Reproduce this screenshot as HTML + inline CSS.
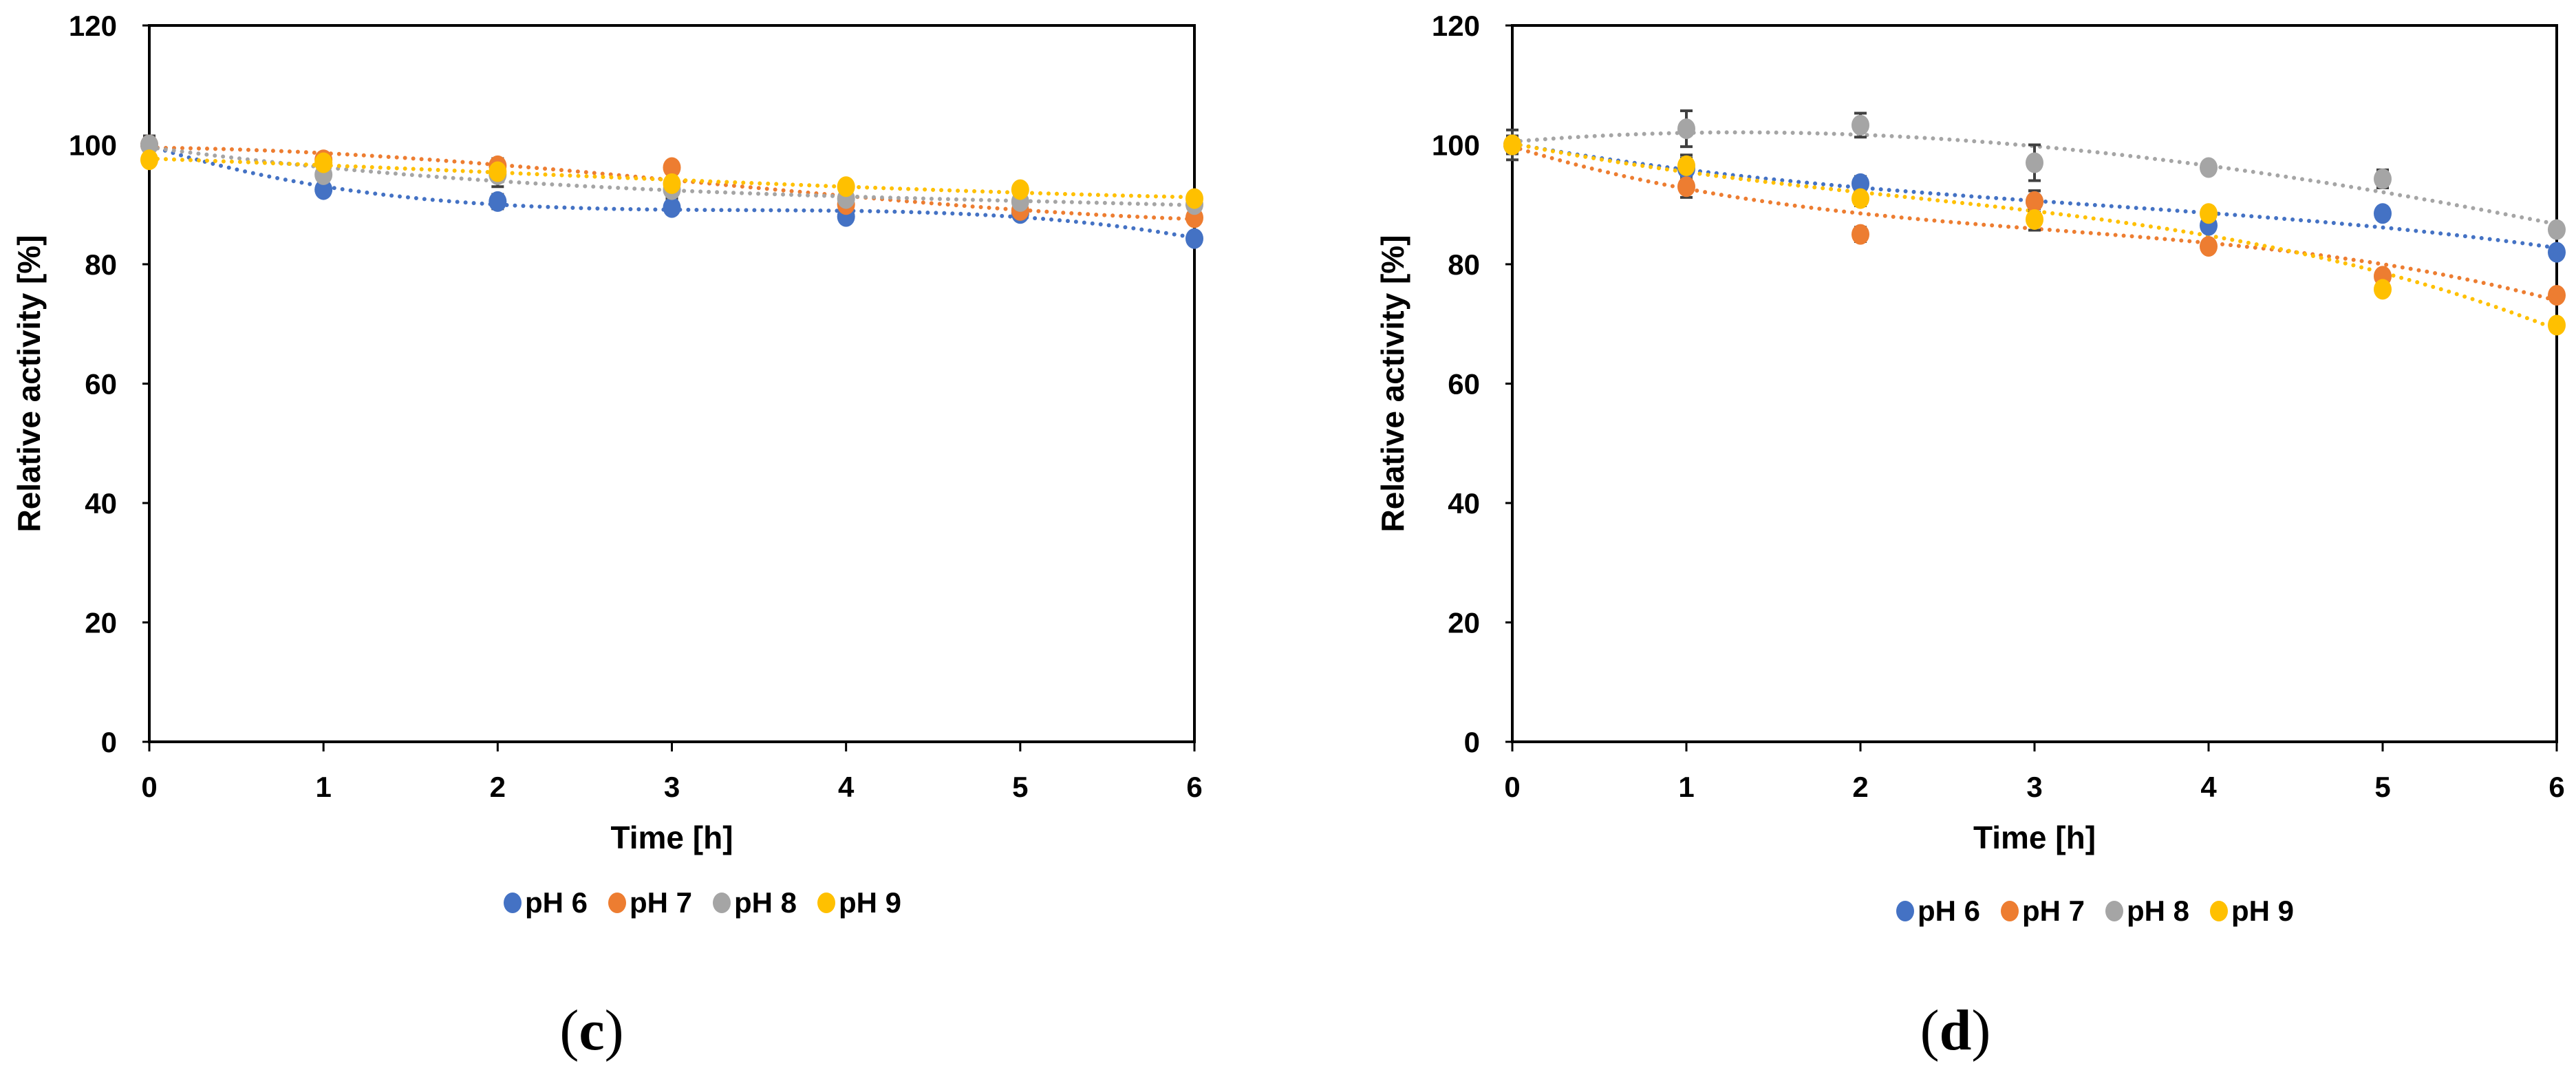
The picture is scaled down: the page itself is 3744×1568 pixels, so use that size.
<!DOCTYPE html>
<html><head><meta charset="utf-8"><style>
html,body{margin:0;padding:0;background:#fff;}
svg{display:block;font-family:"Liberation Sans",sans-serif;}
</style></head><body>
<svg id="fig" width="3744" height="1568" viewBox="0 0 3744 1568"></svg>
<script>
const times=[0,1,2,3,4,5,6];
const yTicks=[0,20,40,60,80,100,120];
const seriesNames=["pH 6","pH 7","pH 8","pH 9"];
const colors=["#4472C4","#ED7D31","#A5A5A5","#FFC000"];
// panel c
const c_ph6=[100,92.5,90.5,89.5,88,88.5,84.3];
const c_ph7=[100,97.5,96.5,96.2,90,89,87.8];
const c_ph8=[100,95,95,92.5,91,90.5,90];
const c_ph9=[97.5,97,95.5,93.5,93,92.5,91];
const c_err=[1.5,1,2,1.5,1,1.5,1.5];
// panel d
const d_ph6=[100,96,93.5,90.5,86.5,88.5,82];
const d_ph7=[100,93,85,90.5,83,78,74.8];
const d_ph8=[100,102.7,103.3,97,96.2,94.3,85.8];
const d_ph9=[100,96.5,91,87.5,88.5,75.8,69.8];
const d_err=[2.5,3,2,3,1,1.5,1];

const NS="http://www.w3.org/2000/svg";
const svg=document.getElementById('fig');
function mk(tag,attrs,parent){const e=document.createElementNS(NS,tag);for(const k in attrs)e.setAttribute(k,attrs[k]);(parent||svg).appendChild(e);return e;}
function polyfit(xs,ys,deg){
  const n=deg+1;const A=[];for(let i=0;i<n;i++){A.push(new Array(n+1).fill(0));}
  for(let k=0;k<xs.length;k++){for(let i=0;i<n;i++){for(let j=0;j<n;j++)A[i][j]+=Math.pow(xs[k],i+j);A[i][n]+=ys[k]*Math.pow(xs[k],i);}}
  for(let i=0;i<n;i++){let p=i;for(let r=i+1;r<n;r++)if(Math.abs(A[r][i])>Math.abs(A[p][i]))p=r;[A[i],A[p]]=[A[p],A[i]];
    for(let r=0;r<n;r++){if(r===i)continue;const f=A[r][i]/A[i][i];for(let c=i;c<=n;c++)A[r][c]-=f*A[i][c];}}
  return A.map((row,i)=>row[n]/row[i]);
}
function drawPanel(opt){
  const {x0,x1,y0,y1,data,err,label,labelX,legendX,legendY,titleX,prefix}=opt;
  const X=t=>x0+(t-0)/6*(x1-x0);
  const Y=v=>y0-(v/120)*(y0-y1);
  const g=mk('g',{});
  
  
  const frame=mk('rect',{x:x0,y:y1,width:x1-x0,height:y0-y1,fill:'none',stroke:'#000','stroke-width':4},g);
  
  
  yTicks.forEach(v=>{
    mk('line',{x1:x0-10,x2:x0,y1:Y(v),y2:Y(v),stroke:'#000','stroke-width':3},g);
    const t=mk('text',{x:x0-47,y:Y(v)+15,'text-anchor':'end','font-size':42,'font-weight':'bold',fill:'#000'},g);
    t.textContent=v;
    
    
  });
  times.forEach(tv=>{
    mk('line',{x1:X(tv),x2:X(tv),y1:y0,y2:y0+14,stroke:'#000','stroke-width':3},g);
    const t=mk('text',{x:X(tv),y:y0+80,'text-anchor':'middle','font-size':42,'font-weight':'bold',fill:'#000'},g);
    t.textContent=tv;
    
    
  });
  const xt=mk('text',{x:(x0+x1)/2,y:y0+155,'text-anchor':'middle','font-size':46,'font-weight':'bold',fill:'#000'},g);
  xt.textContent='Time [h]';
  
  
  const yt=mk('text',{x:0,y:0,'text-anchor':'middle','font-size':46,'font-weight':'bold',fill:'#000',transform:`translate(${titleX},${(y0+y1)/2}) rotate(-90)`},g);
  yt.textContent='Relative activity [%]';
  
  
  // trendlines
  data.forEach((ys,si)=>{
    const c=polyfit(times,ys,3);let d='';
    for(let k=0;k<=120;k++){const t=k/20;let v=0;c.forEach((a,i)=>v+=a*Math.pow(t,i));d+=(k?'L':'M')+X(t).toFixed(1)+' '+Y(v).toFixed(1);}
    const p=mk('path',{d:d,fill:'none',stroke:colors[si],'stroke-width':6,'stroke-dasharray':'0 12','stroke-linecap':'round'},g);
    
    
  });
  // error bars & points
  data.forEach((ys,si)=>{
    ys.forEach((v,i)=>{
      const e=err[i]*(si===2?1:0.6);
      const eb=mk('path',{d:`M${X(i)} ${Y(v+e)}V${Y(v-e)}M${X(i)-9} ${Y(v+e)}h18M${X(i)-9} ${Y(v-e)}h18`,stroke:'#404040','stroke-width':4,fill:'none'},g);
      
      
    });
  });
  data.forEach((ys,si)=>{
    ys.forEach((v,i)=>{
      const m=mk('ellipse',{cx:X(i),cy:Y(v),rx:13,ry:15,fill:colors[si]},g);
      
      
    });
  });
  // legend
  let lx=legendX;
  seriesNames.forEach((n,si)=>{
    const dot=mk('ellipse',{cx:lx+12,cy:legendY-14,rx:13,ry:15,fill:colors[si]},g);
    
    
    const t=mk('text',{x:lx+30,y:legendY,'font-size':42,'font-weight':'bold',fill:'#000'},g);
    t.textContent=n;
    
    
    lx+=152;
  });
  const pl=mk('text',{x:labelX,y:1525,'text-anchor':'middle','font-size':84,fill:'#000','font-family':'Liberation Serif, serif'},g);
  pl.innerHTML='(<tspan font-weight="bold">'+label+'</tspan>)';
  
  
}
drawPanel({prefix:'panel-c',x0:217,x1:1736,y0:1078,y1:37,data:[c_ph6,c_ph7,c_ph8,c_ph9],err:c_err,label:'c',labelX:860,legendX:733,legendY:1326,titleX:58});
drawPanel({prefix:'panel-d',x0:2198,x1:3716,y0:1078,y1:37,data:[d_ph6,d_ph7,d_ph8,d_ph9],err:d_err,label:'d',labelX:2842,legendX:2757,legendY:1338,titleX:2040});
</script>
</body></html>
